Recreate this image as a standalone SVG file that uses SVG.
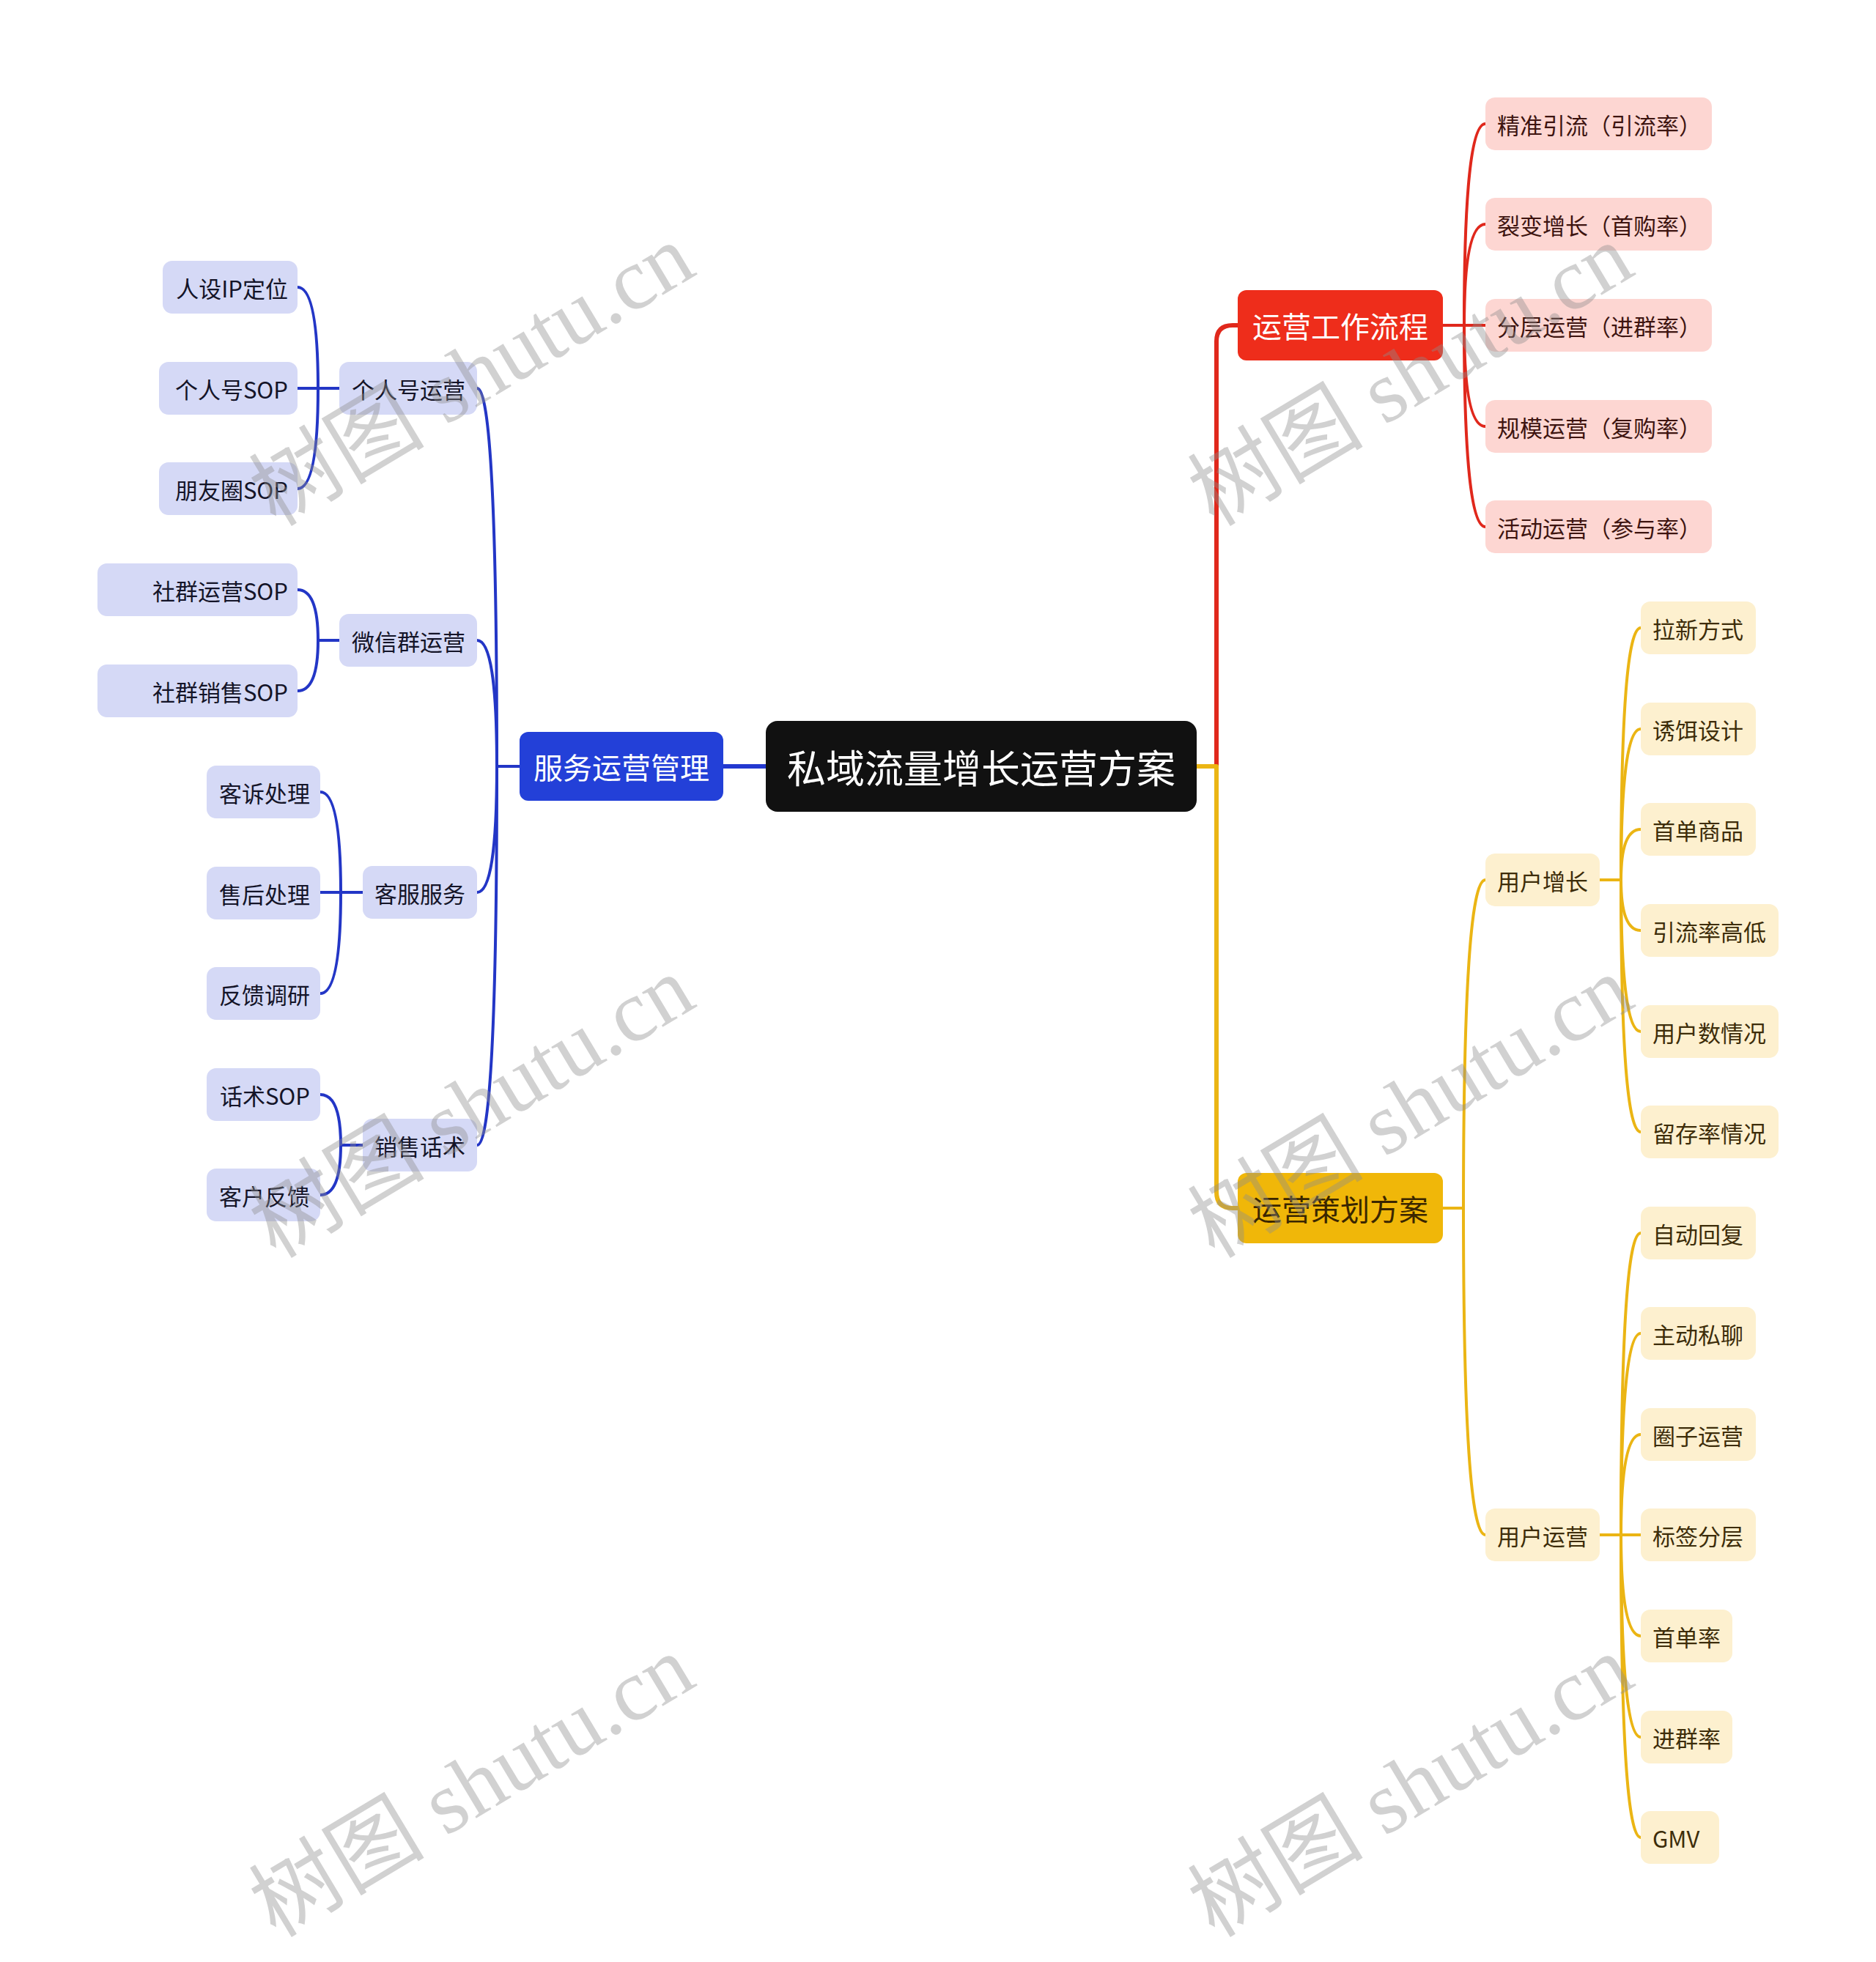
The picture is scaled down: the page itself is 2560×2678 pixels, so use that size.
<svg xmlns="http://www.w3.org/2000/svg" width="2560" height="2678" viewBox="0 0 2560 2678">
<style>
text{font-family:"Noto Sans CJK SC","Noto Sans",sans-serif;dominant-baseline:central}
.t3{font-size:31px}
.t1{font-size:40px}
.c{fill:none;stroke-linecap:round;stroke-linejoin:round}
.cb{stroke:#2336c6;stroke-width:4}
.cr{stroke:#e0281c;stroke-width:4}
.cy{stroke:#ebb514;stroke-width:4}
.lav{fill:#d5d9f6}
.pink{fill:#fdd6d2}
.cream{fill:#fdf0cf}
.tl{fill:#141428}
.tp{fill:#3d1410}
.tc{fill:#3d2d0a}
.wm{font-family:"Liberation Serif","Noto Sans CJK SC",serif;font-size:120px;fill:#8c8c8c;fill-opacity:0.4;text-anchor:middle}
</style>
<rect width="2560" height="2678" fill="#ffffff"/>
<g id="connectors">
  <path class="c" stroke="#2338d0" stroke-width="6" d="M1045,1046 H987"/>
  <path class="c" stroke="#e0281c" stroke-width="6" d="M1660,1046 V466 Q1660,444 1682,444 H1689"/>
  <path class="c" stroke="#ebb514" stroke-width="6" d="M1633,1046 H1660 V1627 Q1660,1649 1682,1649 H1689"/>
  <path class="c cb" d="M709,1046 H678 Q678,530 651,530"/>
  <path class="c cb" d="M709,1046 H678 Q678,874 651,874"/>
  <path class="c cb" d="M709,1046 H678 Q678,1218 651,1218"/>
  <path class="c cb" d="M709,1046 H678 Q678,1563 651,1563"/>
  <path class="c cb" d="M463,530 H434 Q434,392 406,392"/>
  <path class="c cb" d="M463,530 H406"/>
  <path class="c cb" d="M463,530 H434 Q434,667 406,667"/>
  <path class="c cb" d="M463,874 H434 Q434,805 406,805"/>
  <path class="c cb" d="M463,874 H434 Q434,943 406,943"/>
  <path class="c cb" d="M495,1218 H465 Q465,1081 437,1081"/>
  <path class="c cb" d="M495,1218 H437"/>
  <path class="c cb" d="M495,1218 H465 Q465,1356 437,1356"/>
  <path class="c cb" d="M495,1563 H465 Q465,1494 437,1494"/>
  <path class="c cb" d="M495,1563 H465 Q465,1631 437,1631"/>
  <path class="c cr" d="M1969,444 H1998 Q1998,169 2027,169"/>
  <path class="c cr" d="M1969,444 H1998 Q1998,306 2027,306"/>
  <path class="c cr" d="M1969,444 H2027"/>
  <path class="c cr" d="M1969,444 H1998 Q1998,582 2027,582"/>
  <path class="c cr" d="M1969,444 H1998 Q1998,719 2027,719"/>
  <path class="c cy" d="M1969,1649 H1997 Q1997,1201 2027,1201"/>
  <path class="c cy" d="M1969,1649 H1997 Q1997,2095 2027,2095"/>
  <path class="c cy" d="M2183,1201 H2212 Q2212,857 2239,857"/>
  <path class="c cy" d="M2183,1201 H2212 Q2212,995 2239,995"/>
  <path class="c cy" d="M2183,1201 H2212 Q2212,1132 2239,1132"/>
  <path class="c cy" d="M2183,1201 H2212 Q2212,1270 2239,1270"/>
  <path class="c cy" d="M2183,1201 H2212 Q2212,1408 2239,1408"/>
  <path class="c cy" d="M2183,1201 H2212 Q2212,1545 2239,1545"/>
  <path class="c cy" d="M2183,2095 H2212 Q2212,1683 2239,1683"/>
  <path class="c cy" d="M2183,2095 H2212 Q2212,1820 2239,1820"/>
  <path class="c cy" d="M2183,2095 H2212 Q2212,1958 2239,1958"/>
  <path class="c cy" d="M2183,2095 H2239"/>
  <path class="c cy" d="M2183,2095 H2212 Q2212,2233 2239,2233"/>
  <path class="c cy" d="M2183,2095 H2212 Q2212,2371 2239,2371"/>
  <path class="c cy" d="M2183,2095 H2212 Q2212,2508 2239,2508"/>
</g>

<g id="root"><rect x="1045" y="984" width="588" height="124" rx="16" fill="#111111"/><text x="1339" y="1046" font-size="53" fill="#ffffff" text-anchor="middle">私域流量增长运营方案</text></g>

<g id="n-fuwu"><rect x="709" y="999" width="278" height="94" rx="12" fill="#2340d8"/><text class="t1" x="848" y="1046" fill="#ffffff" text-anchor="middle">服务运营管理</text></g>
<g id="n-gongzuo"><rect x="1689" y="396" width="280" height="96" rx="12" fill="#ee2d1b"/><text class="t1" x="1829" y="444" fill="#ffffff" text-anchor="middle">运营工作流程</text></g>
<g id="n-cehua"><rect x="1689" y="1601" width="280" height="96" rx="12" fill="#f0b709"/><text class="t1" x="1829" y="1649" fill="#3a2600" text-anchor="middle">运营策划方案</text></g>

<g id="n-gerenhao"><rect class="lav" x="463" y="494" width="188" height="72" rx="13"/><text class="t3 tl" x="635" y="530" text-anchor="end">个人号运营</text></g>
<g id="n-weixinqun"><rect class="lav" x="463" y="838" width="188" height="72" rx="13"/><text class="t3 tl" x="635" y="874" text-anchor="end">微信群运营</text></g>
<g id="n-kefu"><rect class="lav" x="495" y="1182" width="156" height="72" rx="13"/><text class="t3 tl" x="635" y="1218" text-anchor="end">客服服务</text></g>
<g id="n-xiaoshou"><rect class="lav" x="495" y="1527" width="156" height="72" rx="13"/><text class="t3 tl" x="635" y="1563" text-anchor="end">销售话术</text></g>

<g id="n-renshe"><rect class="lav" x="222" y="356" width="184" height="72" rx="13"/><text class="t3 tl" x="393" y="392" text-anchor="end">人设IP定位</text></g>
<g id="n-gerensop"><rect class="lav" x="217" y="494" width="189" height="72" rx="13"/><text class="t3 tl" x="393" y="530" text-anchor="end">个人号SOP</text></g>
<g id="n-pengyouquan"><rect class="lav" x="217" y="631" width="189" height="72" rx="13"/><text class="t3 tl" x="393" y="667" text-anchor="end">朋友圈SOP</text></g>
<g id="n-shequnyunying"><rect class="lav" x="133" y="769" width="273" height="72" rx="13"/><text class="t3 tl" x="393" y="805" text-anchor="end">社群运营SOP</text></g>
<g id="n-shequnxiaoshou"><rect class="lav" x="133" y="907" width="273" height="72" rx="13"/><text class="t3 tl" x="393" y="943" text-anchor="end">社群销售SOP</text></g>
<g id="n-kesu"><rect class="lav" x="282" y="1045" width="155" height="72" rx="13"/><text class="t3 tl" x="423" y="1081" text-anchor="end">客诉处理</text></g>
<g id="n-shouhou"><rect class="lav" x="282" y="1183" width="155" height="72" rx="13"/><text class="t3 tl" x="423" y="1219" text-anchor="end">售后处理</text></g>
<g id="n-fankui"><rect class="lav" x="282" y="1320" width="155" height="72" rx="13"/><text class="t3 tl" x="423" y="1356" text-anchor="end">反馈调研</text></g>
<g id="n-huashu"><rect class="lav" x="282" y="1458" width="155" height="72" rx="13"/><text class="t3 tl" x="423" y="1494" text-anchor="end">话术SOP</text></g>
<g id="n-kehu"><rect class="lav" x="282" y="1595" width="155" height="72" rx="13"/><text class="t3 tl" x="423" y="1631" text-anchor="end">客户反馈</text></g>

<g id="n-jingzhun"><rect class="pink" x="2027" y="133" width="309" height="72" rx="13"/><text class="t3 tp" x="2043" y="169">精准引流（引流率）</text></g>
<g id="n-liebian"><rect class="pink" x="2027" y="270" width="309" height="72" rx="13"/><text class="t3 tp" x="2043" y="306">裂变增长（首购率）</text></g>
<g id="n-fenceng"><rect class="pink" x="2027" y="408" width="309" height="72" rx="13"/><text class="t3 tp" x="2043" y="444">分层运营（进群率）</text></g>
<g id="n-guimo"><rect class="pink" x="2027" y="546" width="309" height="72" rx="13"/><text class="t3 tp" x="2043" y="582">规模运营（复购率）</text></g>
<g id="n-huodong"><rect class="pink" x="2027" y="683" width="309" height="72" rx="13"/><text class="t3 tp" x="2043" y="719">活动运营（参与率）</text></g>

<g id="n-yonghuzengzhang"><rect class="cream" x="2027" y="1165" width="156" height="72" rx="13"/><text class="t3 tc" x="2043" y="1201">用户增长</text></g>
<g id="n-yonghuyunying"><rect class="cream" x="2027" y="2059" width="156" height="72" rx="13"/><text class="t3 tc" x="2043" y="2095">用户运营</text></g>

<g id="n-laxin"><rect class="cream" x="2239" y="821" width="157" height="72" rx="13"/><text class="t3 tc" x="2255" y="857">拉新方式</text></g>
<g id="n-youer"><rect class="cream" x="2239" y="959" width="157" height="72" rx="13"/><text class="t3 tc" x="2255" y="995">诱饵设计</text></g>
<g id="n-shoudanshangpin"><rect class="cream" x="2239" y="1096" width="157" height="72" rx="13"/><text class="t3 tc" x="2255" y="1132">首单商品</text></g>
<g id="n-yinliulv"><rect class="cream" x="2239" y="1234" width="188" height="72" rx="13"/><text class="t3 tc" x="2255" y="1270">引流率高低</text></g>
<g id="n-yonghushu"><rect class="cream" x="2239" y="1372" width="188" height="72" rx="13"/><text class="t3 tc" x="2255" y="1408">用户数情况</text></g>
<g id="n-liucun"><rect class="cream" x="2239" y="1509" width="188" height="72" rx="13"/><text class="t3 tc" x="2255" y="1545">留存率情况</text></g>
<g id="n-zidong"><rect class="cream" x="2239" y="1647" width="157" height="72" rx="13"/><text class="t3 tc" x="2255" y="1683">自动回复</text></g>
<g id="n-zhudong"><rect class="cream" x="2239" y="1784" width="157" height="72" rx="13"/><text class="t3 tc" x="2255" y="1820">主动私聊</text></g>
<g id="n-quanzi"><rect class="cream" x="2239" y="1922" width="157" height="72" rx="13"/><text class="t3 tc" x="2255" y="1958">圈子运营</text></g>
<g id="n-biaoqian"><rect class="cream" x="2239" y="2059" width="157" height="72" rx="13"/><text class="t3 tc" x="2255" y="2095">标签分层</text></g>
<g id="n-shoudanlv"><rect class="cream" x="2239" y="2197" width="125" height="72" rx="13"/><text class="t3 tc" x="2255" y="2233">首单率</text></g>
<g id="n-jinqunlv"><rect class="cream" x="2239" y="2335" width="125" height="72" rx="13"/><text class="t3 tc" x="2255" y="2371">进群率</text></g>
<g id="n-gmv"><rect class="cream" x="2239" y="2472" width="107" height="72" rx="13"/><text class="t3 tc" x="2255" y="2508">GMV</text></g>

<g id="watermarks">
  <text class="wm" x="644" y="512" transform="rotate(-31 644 512)">树图 shutu.cn</text>
  <text class="wm" x="644" y="1511" transform="rotate(-31 644 1511)">树图 shutu.cn</text>
  <text class="wm" x="644" y="2438" transform="rotate(-31 644 2438)">树图 shutu.cn</text>
  <text class="wm" x="1925" y="512" transform="rotate(-31 1925 512)">树图 shutu.cn</text>
  <text class="wm" x="1925" y="1511" transform="rotate(-31 1925 1511)">树图 shutu.cn</text>
  <text class="wm" x="1925" y="2438" transform="rotate(-31 1925 2438)">树图 shutu.cn</text>
</g>
</svg>
